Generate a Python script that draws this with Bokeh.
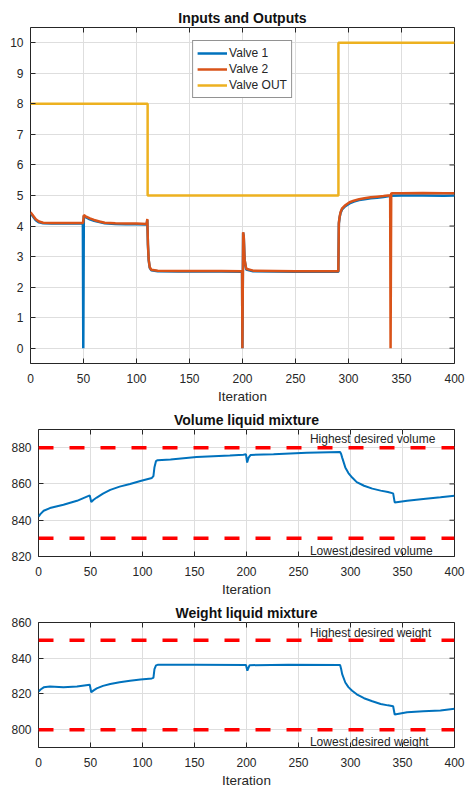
import math
from bokeh.plotting import figure
from bokeh.models import Span, Range1d, FixedTicker, Legend, LegendItem
from bokeh.layouts import column, row
from bokeh.core.properties import value
from bokeh.embed import file_html
from bokeh.resources import INLINE

# ---------------- data ----------------
x_ticks = [0, 50, 100, 150, 200, 250, 300, 350, 400]

# Valve 2 (orange)
v2_x = [0, 2, 5, 8, 12, 20, 30, 40, 49.6, 50.3, 52, 56, 60, 65, 70, 80, 90, 100, 109.6, 110.2,
        110.8, 111.5, 112.5, 114, 120, 140, 160, 180, 199.6, 199.9, 200.6, 201.2, 202, 203.5, 210,
        230, 250, 270, 290.4, 290.9, 291.6, 292.5, 294, 297, 301, 305, 310, 315, 321, 327, 333,
        339.3, 339.7, 340.3, 341, 350, 370, 390, 400]
v2_y = [4.45, 4.36, 4.22, 4.15, 4.11, 4.1, 4.1, 4.1, 4.1, 4.36, 4.32, 4.25, 4.2, 4.15, 4.11, 4.09,
        4.08, 4.08, 4.07, 4.23, 3.4, 2.9, 2.65, 2.57, 2.54, 2.53, 2.53, 2.53, 2.52, 0.0, 3.8, 3.65,
        2.9, 2.6, 2.54, 2.53, 2.52, 2.52, 2.52, 4.1, 4.3, 4.45, 4.58, 4.68, 4.78, 4.83, 4.88, 4.91,
        4.94, 4.96, 4.98, 5.01, 0.0, 5.08, 5.07, 5.07, 5.08, 5.07, 5.07]

# Valve 1 (blue)
v1_x = [0, 2, 5, 8, 12, 20, 30, 40, 49.4, 49.8, 50.3, 52, 56, 60, 65, 70, 80, 90, 100, 109.6,
        110.2, 110.8, 111.5, 112.5, 114, 120, 140, 160, 180, 199.6, 199.9, 200.6, 201.2, 202,
        203.5, 210, 230, 250, 270, 290.4, 290.9, 291.6, 292.5, 294, 297, 301, 305, 310, 315, 321,
        327, 333, 340, 350, 370, 390, 400]
v1_y = [4.42, 4.33, 4.19, 4.12, 4.09, 4.08, 4.08, 4.08, 4.08, 0.0, 4.33, 4.29, 4.22, 4.17, 4.13,
        4.09, 4.07, 4.06, 4.06, 4.05, 4.2, 3.38, 2.88, 2.63, 2.55, 2.52, 2.51, 2.51, 2.51, 2.5,
        0.0, 3.78, 3.63, 2.88, 2.58, 2.52, 2.51, 2.5, 2.5, 2.5, 4.08, 4.28, 4.43, 4.55, 4.65, 4.74,
        4.8, 4.85, 4.88, 4.91, 4.93, 4.95, 4.99, 5.0, 5.0, 4.99, 5.0]

# Valve OUT (yellow)
vout_x = [0, 110.5, 110.5, 290.5, 290.5, 400]
vout_y = [8, 8, 5, 5, 10, 10]

# Volume liquid mixture
vol_x = [0, 2, 5, 11, 24, 37, 49.3, 50.7, 53, 56, 62, 69, 78, 88, 98, 109, 110.5, 111.5, 113,
         114.5, 127, 152, 184, 197, 199.5, 200.6, 202, 204, 226, 258, 290, 291, 292, 295, 298,
         301.6, 306, 313, 321, 329, 336, 341, 342.5, 354.5, 370, 386.5, 400]
vol_y = [842.0, 843.5, 845.2, 846.7, 848.5, 850.7, 853.7, 850.0, 851.3, 852.5, 854.6, 856.7,
         858.5, 860.0, 861.6, 863.3, 864.3, 869.2, 872.6, 873.1, 873.5, 874.8, 875.7, 876.1,
         876.3, 871.8, 874.5, 876.0, 876.3, 877.2, 877.6, 876.5, 874.5, 869.1, 866.0, 863.5,
         861.0, 859.0, 857.4, 856.3, 855.5, 854.8, 849.8, 850.7, 851.7, 852.6, 853.5]

# Weight liquid mixture
wt_x = [0, 2, 5, 11, 24, 37, 49.3, 50.7, 53, 56, 62, 69, 78, 88, 98, 109, 110.5, 111.5, 113,
        114.5, 150, 199.5, 200.8, 203, 240, 290, 291, 292, 295, 298, 301.6, 306, 313, 321, 329,
        336, 341, 342.5, 354.5, 370, 386.5, 400]
wt_y = [821.3, 822.5, 823.7, 824.2, 823.8, 824.1, 825.2, 820.9, 822.0, 823.1, 824.5, 825.6,
        826.6, 827.4, 828.1, 828.7, 829.0, 833.9, 836.0, 836.3, 836.3, 836.2, 833.0, 836.1,
        836.3, 836.2, 834.0, 831.1, 826.4, 823.8, 821.8, 819.8, 817.6, 815.9, 814.4, 813.6,
        813.1, 808.5, 809.8, 810.3, 810.7, 811.7]

vol_limits = [880, 830]
wt_limits = [850, 800]

vol_text_x = [261, 261]
vol_text_y = [884.6, 823.3]
vol_text = ["Highest desired volume", "Lowest desired volume"]
wt_text_x = [261, 261]
wt_text_y = [854.4, 793.2]
wt_text = ["Highest desired weight", "Lowest desired weight"]

# ---------------- styling ----------------
FONT = "Liberation Sans"
AXC = "#262626"
BLUE = "#0072BD"
ORANGE = "#D95319"
YELLOW = "#EDB120"


def style_axis(ax, ticks, standoff):
    ax.ticker = FixedTicker(ticks=ticks)
    ax.major_tick_in = 5
    ax.major_tick_out = 0
    ax.minor_tick_line_color = None
    ax.major_tick_line_color = AXC
    ax.axis_line_color = None
    ax.major_label_text_font = FONT
    ax.major_label_text_color = AXC
    ax.major_label_text_font_size = "12px"
    ax.major_label_standoff = standoff


def make_fig(fw, fh, left, top, bottom, yr, yticks, title):
    p = figure(frame_width=fw, frame_height=fh, x_range=Range1d(0, 400), y_range=Range1d(*yr),
               output_backend="svg", toolbar_location=None,
               min_border_left=left, min_border_right=11, min_border_top=top,
               min_border_bottom=bottom, title=title)
    p.title.text_font = FONT
    p.title.text_font_size = "14px"
    p.title.text_font_style = "bold"
    p.title.text_color = "#111111"
    p.title.align = "center"
    p.title.standoff = 4
    p.outline_line_color = AXC
    p.outline_line_width = 1
    p.background_fill_color = "white"
    p.border_fill_color = "white"
    p.xgrid.grid_line_color = "#dedede"
    p.ygrid.grid_line_color = "#dedede"
    p.xgrid.ticker = FixedTicker(ticks=x_ticks)
    p.ygrid.ticker = FixedTicker(ticks=yticks)
    style_axis(p.xaxis[0], x_ticks, 10)
    style_axis(p.yaxis[0], yticks, 7)
    p.xaxis[0].axis_label = "Iteration"
    p.xaxis[0].axis_label_text_font = FONT
    p.xaxis[0].axis_label_text_font_size = "13.5px"
    p.xaxis[0].axis_label_text_font_style = "normal"
    p.xaxis[0].axis_label_text_color = AXC
    p.xaxis[0].axis_label_standoff = 3
    # box ticks on the top and right edges
    p.scatter(x_ticks, [yr[1]] * len(x_ticks), marker="dash", angle=math.pi / 2, size=10,
              line_color=AXC, line_width=1)
    p.scatter([400] * len(yticks), yticks, marker="dash", size=10,
              line_color=AXC, line_width=1)
    return p


# ---- Figure 1 ----
p1 = make_fig(424, 336, 30, 27, 44, (-0.5, 10.5), list(range(0, 11)), "Inputs and Outputs")
r1 = p1.line(v1_x, v1_y, line_color=BLUE, line_width=2.5)
r2 = p1.line(v2_x, v2_y, line_color=ORANGE, line_width=2.5)
r3 = p1.line(vout_x, vout_y, line_color=YELLOW, line_width=2.5)
leg = Legend(items=[LegendItem(label="Valve 1", renderers=[r1]),
                    LegendItem(label="Valve 2", renderers=[r2]),
                    LegendItem(label="Valve OUT", renderers=[r3])],
             location="top_center")
leg.margin = 13
leg.padding = 4
leg.spacing = 0
leg.glyph_width = 30
leg.glyph_height = 16
leg.label_height = 16
leg.label_standoff = 2
leg.label_text_font = FONT
leg.label_text_font_size = "12px"
leg.label_text_color = AXC
leg.border_line_color = AXC
leg.border_line_width = 1
leg.background_fill_color = "white"
leg.background_fill_alpha = 1
p1.add_layout(leg, "center")

# ---- Figure 2 ----
p2 = make_fig(416, 127, 38, 20, 44, (820, 890), [820, 840, 860, 880], "Volume liquid mixture")
p2.line(vol_x, vol_y, line_color=BLUE, line_width=2)
for lim in vol_limits:
    p2.add_layout(Span(location=lim, dimension="width", line_color="#FF0000",
                       line_width=3.5, line_dash="15 16"))
p2.text(vol_text_x, vol_text_y, text=vol_text, text_font=value(FONT), text_font_size="12px",
        text_color=AXC, text_baseline="middle", text_align="left")

# ---- Figure 3 ----
p3 = make_fig(416, 125, 38, 20, 44, (790, 860), [800, 820, 840, 860], "Weight liquid mixture")
p3.line(wt_x, wt_y, line_color=BLUE, line_width=2)
for lim in wt_limits:
    p3.add_layout(Span(location=lim, dimension="width", line_color="#FF0000",
                       line_width=3.5, line_dash="15 16"))
p3.text(wt_text_x, wt_text_y, text=wt_text, text_font=value(FONT), text_font_size="12px",
        text_color=AXC, text_baseline="middle", text_align="left")

layout = column(row(p1), row(p2), row(p3), spacing=0)
open("out.html", "w").write(file_html(layout, INLINE))
